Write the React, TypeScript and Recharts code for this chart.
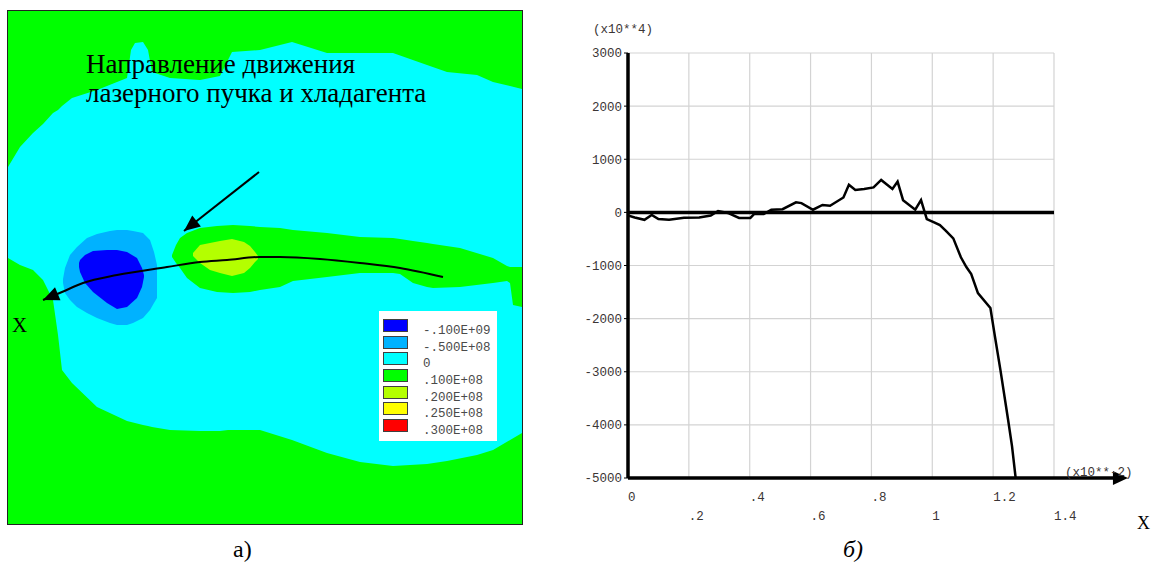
import React from "react";
import {
  Area,
  CartesianGrid,
  ComposedChart,
  Legend,
  Line,
  ReferenceDot,
  ReferenceLine,
  XAxis,
  YAxis,
} from "recharts";

const SERIF = "'Liberation Serif', 'Times New Roman', serif";
const MONO = "'Liberation Mono', 'Courier New', monospace";
const INK = "#3b3535";

// --- panel а): stress field, boundaries read in page pixels as [x, top, bottom]
const cyanBand = [
  [8, 167, 258], [20, 147, 265], [33, 133, 270], [43, 124, 280], [53, 113, 300],
  [58, 110, 335], [62, 106, 370], [72, 98, 383], [97, 90, 407], [127, 78, 421],
  [131, 50, 422], [135, 43, 423], [143, 42, 425], [148, 50, 426], [152, 72, 427],
  [170, 78, 430], [200, 80, 431], [220, 76, 431], [228, 60, 430], [232, 52, 430],
  [260, 50, 430], [292, 42, 440], [327, 53, 453], [360, 53, 462], [393, 53, 466],
  [427, 65, 464], [447, 72, 461], [477, 75, 455], [493, 82, 450], [522, 89, 433],
];
const lensBand = [
  [172, 255, 257], [176, 245, 263], [180, 238, 268], [187, 233, 278], [200, 228, 288],
  [217, 226, 292], [233, 225, 293], [250, 226, 292], [260, 227, 290], [280, 228, 287],
  [293, 230, 281], [327, 233, 277], [360, 237, 273], [393, 238, 273], [400, 239, 274],
  [413, 241, 283], [427, 243, 287], [433, 244, 288], [460, 248, 287], [493, 258, 283],
  [507, 266, 281], [510, 267, 283], [513, 267, 305], [522, 267, 307],
];
const peakBand = [
  [193, 253, 256], [200, 245, 263], [210, 243, 270], [220, 241, 273], [232, 239, 276],
  [244, 242, 273], [250, 246, 268], [255, 252, 262], [258, 256, 259],
];
const ringBand = [
  [63, 279, 283], [65, 268, 293], [70, 255, 300], [77, 247, 307], [87, 238, 313],
  [97, 234, 318], [110, 231, 323], [117, 230, 325], [127, 230, 325], [133, 231, 323],
  [143, 233, 318], [150, 240, 310], [154, 252, 303], [157, 265, 298],
];
const coreBand = [
  [79, 263, 267], [80, 260, 272], [85, 255, 283], [93, 251, 292], [107, 250, 303],
  [117, 250, 309], [127, 252, 307], [137, 258, 298], [142, 268, 287], [144, 275, 277],
];
// beam path (tip first) and the pointer arrow (tip last)
const beamPath = [
  [43, 300], [62, 292], [83, 283], [117, 275], [167, 267], [200, 262], [227, 260],
  [260, 257], [280, 257], [320, 259], [360, 263], [400, 268], [443, 277],
];
const pointerPath = [[259, 172], [184, 231]];

const legendLabels = ["-.100E+09", "-.500E+08", "0", ".100E+08", ".200E+08", ".250E+08", ".300E+08"];
const legendColors = ["#0000ff", "#00b2ff", "#00ffff", "#00ff00", "#b4ff00", "#ffff00", "#ff0000"];

// --- panel б): profile along x
const profileX = [
  0, 0.022, 0.054, 0.078, 0.1, 0.135, 0.184, 0.234, 0.272, 0.296, 0.328, 0.365, 0.402,
  0.415, 0.446, 0.471, 0.508, 0.552, 0.57, 0.608, 0.639, 0.664, 0.708, 0.726, 0.747,
  0.776, 0.807, 0.832, 0.869, 0.886, 0.904, 0.944, 0.963, 0.982, 1.006, 1.025, 1.044,
  1.069, 1.094, 1.112, 1.128, 1.15, 1.191, 1.206, 1.224, 1.249, 1.262, 1.274,
];
const profileY = [
  -60, -95, -140, -50, -125, -140, -100, -95, -60, 25, -10, -105, -105, -30, -30, 50, 60,
  190, 175, 50, 140, 125, 280, 520, 420, 440, 470, 610, 440, 580, 230, 50, 230, -125,
  -190, -240, -345, -490, -845, -1030, -1160, -1520, -1800, -2340, -2970, -3900, -4400,
  -5000,
];
const xTicks = [0, 0.2, 0.4, 0.6, 0.8, 1, 1.2, 1.4];
const xTickLabels = ["0", ".2", ".4", ".6", ".8", "1", "1.2", "1.4"];
const yTicks = [3000, 2000, 1000, 0, -1000, -2000, -3000, -4000, -5000];

function buildFieldTable() {
  const rows = new Map<number, Record<string, any>>();
  const put = (x: number, key: string, v: any) => {
    if (!rows.has(x)) rows.set(x, { x });
    rows.get(x)![key] = v;
  };
  cyanBand.forEach(([x, t, b]) => put(x, "cyan", [t, b]));
  lensBand.forEach(([x, t, b]) => put(x, "lens", [t, b]));
  peakBand.forEach(([x, t, b]) => put(x, "peak", [t, b]));
  ringBand.forEach(([x, t, b]) => put(x, "ring", [t, b]));
  coreBand.forEach(([x, t, b]) => put(x, "core", [t, b]));
  beamPath.forEach(([x, y]) => put(x, "beam", y));
  pointerPath.forEach(([x, y]) => put(x, "pointer", y));
  return [...rows.values()].sort((a, b) => a.x - b.x);
}

const fieldTable = buildFieldTable();
const profileTable = profileX.map((x, i) => ({ x, s: profileY[i] }));

// arrow head on the path's tip; field axes are 1 unit = 1px so the angle holds
function arrowHead(path: number[][], tipIndex: number, nextIndex: number) {
  const [tx, ty] = path[tipIndex];
  const [nx, ny] = path[nextIndex];
  const a = Math.atan2(ty - ny, tx - nx);
  return (props: any) => {
    const { cx, cy, payload, index } = props;
    if (!payload || payload.x !== tx || cx == null) return <g key={`d${index}`} />;
    const len = 16;
    const half = 7;
    const bx = cx - len * Math.cos(a);
    const by = cy - len * Math.sin(a);
    const px = -Math.sin(a) * half;
    const py = Math.cos(a) * half;
    return (
      <path
        key={`d${index}`}
        d={`M${cx},${cy} L${bx + px},${by + py} L${bx - px},${by - py} Z`}
        fill="#000"
      />
    );
  };
}

function ContourLegend() {
  return (
    <div style={{ width: 118, height: 130, background: "#fff", position: "relative", fontFamily: MONO, fontSize: 12.5, color: "#4a4a4a" }}>
      {legendLabels.map((label, i) => (
        <React.Fragment key={label}>
          <div
            style={{
              position: "absolute",
              left: 4,
              top: 8 + i * 16.67,
              width: 23,
              height: 11,
              background: legendColors[i],
              border: "1px solid #404040",
            }}
          />
          <div style={{ position: "absolute", left: 44, top: 13 + i * 16.67, lineHeight: "14px", whiteSpace: "pre" }}>
            {label}
          </div>
        </React.Fragment>
      ))}
    </div>
  );
}

function StaggeredTick(props: any) {
  const { x, y, payload, index } = props;
  const i = xTicks.indexOf(payload.value);
  const row = (i >= 0 ? i : index) % 2;
  return (
    <text x={x} y={y + (row === 0 ? 19 : 38)} dy="0.35em" fontFamily={MONO} fontSize={12.5} fill={INK} textAnchor="start">
      {xTickLabels[i >= 0 ? i : index]}
    </text>
  );
}

const ArrowTip = (props: any) => {
  const { cx, cy } = props;
  return <path d={`M${cx},${cy} L${cx - 15},${cy - 7} L${cx - 15},${cy + 7} Z`} fill="#000" />;
};

export default function App() {
  return (
    <div style={{ position: "absolute", left: 0, top: 0, width: 1152, height: 565, background: "#fff", overflow: "hidden" }}>
      <div style={{ position: "absolute", left: 8, top: 11, width: 514, height: 513, outline: "1px solid #222", background: "#00ff00" }}>
        <ComposedChart width={514} height={513} data={fieldTable} margin={{ top: 0, right: 0, bottom: 0, left: 0 }}>
          <XAxis type="number" dataKey="x" domain={[8, 522]} hide allowDataOverflow />
          <YAxis type="number" domain={[11, 524]} reversed hide allowDataOverflow />
          <Area dataKey="cyan" type="linear" fill="#00ffff" fillOpacity={1} stroke="none" connectNulls activeDot={false} isAnimationActive={false} />
          <Area dataKey="lens" type="linear" fill="#00ff00" fillOpacity={1} stroke="none" connectNulls activeDot={false} isAnimationActive={false} />
          <Area dataKey="peak" type="linear" fill="#b4ff00" fillOpacity={1} stroke="none" connectNulls activeDot={false} isAnimationActive={false} />
          <Area dataKey="ring" type="linear" fill="#00b2ff" fillOpacity={1} stroke="none" connectNulls activeDot={false} isAnimationActive={false} />
          <Area dataKey="core" type="linear" fill="#0000ff" fillOpacity={1} stroke="none" connectNulls activeDot={false} isAnimationActive={false} />
          <Line dataKey="beam" type="monotone" stroke="#000" strokeWidth={2} connectNulls dot={arrowHead(beamPath, 0, 1)} activeDot={false} isAnimationActive={false} />
          <Line dataKey="pointer" type="linear" stroke="#000" strokeWidth={2} connectNulls dot={arrowHead(pointerPath, 1, 0)} activeDot={false} isAnimationActive={false} />
          <Legend
            layout="horizontal"
            verticalAlign="middle"
            align="center"
            content={<ContourLegend />}
            wrapperStyle={{ position: "absolute", left: 371, top: 300, width: 118, height: 130 }}
          />
        </ComposedChart>
      </div>

      <div style={{ position: "absolute", left: 560, top: 0 }}>
        <ComposedChart width={592} height={565} data={profileTable} margin={{ top: 53, right: 98, bottom: 47, left: 18 }}>
          <CartesianGrid stroke="#d3d3d3" strokeWidth={1.2} />
          <XAxis
            type="number"
            dataKey="x"
            domain={[0, 1.4]}
            ticks={xTicks}
            interval={0}
            tick={<StaggeredTick />}
            tickLine={false}
            axisLine={false}
            tickSize={0}
            tickMargin={0}
            height={40}
            allowDataOverflow
          />
          <YAxis
            type="number"
            domain={[-5000, 3000]}
            ticks={yTicks}
            interval={0}
            width={50}
            axisLine={false}
            tickLine={{ stroke: "#000" }}
            tickSize={4}
            tickMargin={2}
            tick={{ fill: INK, fontFamily: MONO, fontSize: 12.5 }}
            allowDataOverflow
          />
          <ReferenceLine x={0} stroke="#000" strokeWidth={3.5} />
          <ReferenceLine y={0} stroke="#000" strokeWidth={3.5} />
          <ReferenceLine
            segment={[{ x: 0, y: -5000 }, { x: 1.62, y: -5000 }]}
            stroke="#000"
            strokeWidth={3.5}
            ifOverflow="visible"
          />
          <ReferenceDot x={1.643} y={-5000} r={7} ifOverflow="visible" shape={ArrowTip} />
          <Line dataKey="s" type="linear" stroke="#000" strokeWidth={2.5} dot={false} activeDot={false} isAnimationActive={false} />
        </ComposedChart>
      </div>

      <svg width={1152} height={565} style={{ position: "absolute", left: 0, top: 0, pointerEvents: "none" }}>
        <text x={86} y={73} fontFamily={SERIF} fontSize={27} fill="#000">Направление движения</text>
        <text x={86} y={102} fontFamily={SERIF} fontSize={27} fill="#000">лазерного пучка и хладагента</text>
        <text x={12} y={332} fontFamily={SERIF} fontSize={21} fill="#000">X</text>
        <text x={233} y={557} fontFamily={SERIF} fontSize={24} fill="#000">а)</text>
        <text x={843} y={557} fontFamily={SERIF} fontSize={24} fontStyle="italic" fill="#000">б)</text>
        <text x={1137} y={529} fontFamily={SERIF} fontSize={18} fill="#000">X</text>
        <text x={593} y={29} dy="0.35em" fontFamily={MONO} fontSize={12.5} fill={INK}>(x10**4)</text>
        <text x={1065} y={472} dy="0.35em" fontFamily={MONO} fontSize={12.5} fill={INK}>(x10**-2)</text>
      </svg>
    </div>
  );
}
